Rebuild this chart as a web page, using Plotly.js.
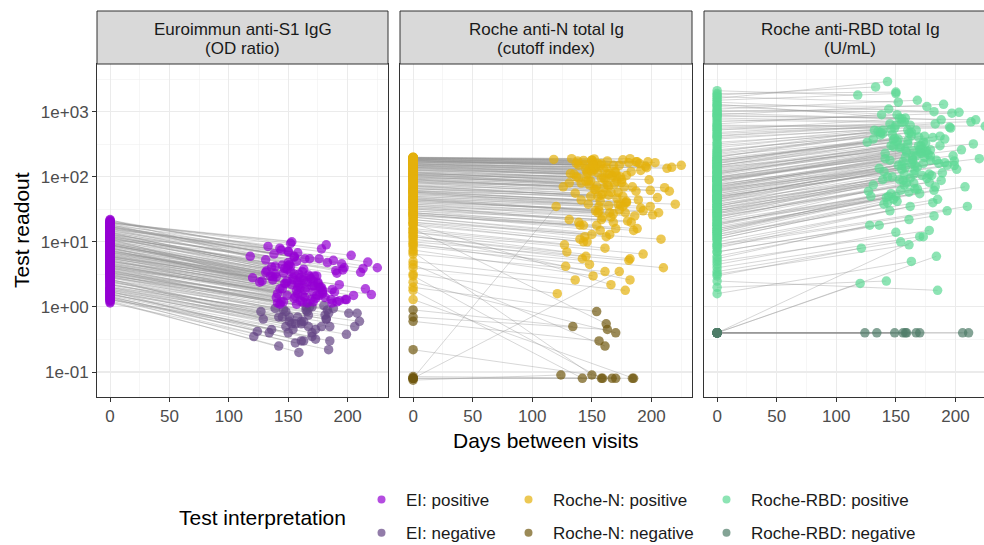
<!DOCTYPE html>
<html>
<head>
<meta charset="utf-8">
<script src="https://cdn.plot.ly/plotly-3.0.1.min.js"></script>
<style>
html,body{margin:0;padding:0;background:#fff;overflow:hidden;}
body{width:984px;height:545px;}
#chart{width:1000px;height:560px;}
</style>
</head>
<body>
<div id="chart"></div>
<script>
// ---------- data ----------
const days = [
152,165,138,177,121,160,145,190,158,171,
148,183,133,162,205,155,142,174,127,168,
159,150,186,136,163,197,146,179,153,215,
140,170,157,131,181,164,149,193,161,118,
175,144,210,156,167,139,185,151,172,201,
162,129,154,178,147,188,166,143,220,159,
135,173,151,195,160,124,182,157,169,141,
208,155,176,146,163,137,191,150,180,167,
153,213,142,171,158,184,132,165,149,199,
176,161,145,187,154,225,168,139,174,156,
120,164,152,182,148,170,196,158,143,217,
161,134,179,150,166,203,155,173,126,188,
157,146,168,184,139,162,175,153,191,144,
166,150,179,131,158,172,187,143,163,206,
148,170,155,198,161,137,176,152,182,165,
159,141,173,189,150,167,128,181,156,211,
170,154,145,178,163,193,136,160,185,149,
164,178,151,140,171,158,199,147,169,183];

const eiV1 = [
12,3.5,18,6.2,1.4,9.5,2.2,15,4.8,7.8,
1.8,11,20,3.0,5.5,14,1.2,8.6,2.6,16,
6.8,21,4.1,1.6,10,13,2.9,5.0,19,7.2,
3.8,1.3,17,9.0,2.4,6.0,12.5,4.4,1.9,22,
8.0,15.5,2.0,5.2,11.5,3.2,1.5,18.5,7.0,4.0,
13.5,2.7,6.5,1.7,9.8,16.5,3.6,20.5,5.8,1.25,
10.5,4.6,2.3,14.5,7.5,1.45,19.5,3.3,8.3,5.4,
2.8,17.5,6.0,11.8,1.35,9.2,4.3,21.5,3.9,1.65,
7.4,13,2.1,5.9,16,1.15,10.8,3.1,8.9,4.7,
19,2.5,12,6.6,1.55,15,3.4,9.6,5.1,1.85,
11,4.2,20,2.2,7.9,1.3,14,6.3,3.7,17,
9.0,1.75,5.6,12.8,2.9,18,4.5,1.4,8.2,3.2,
5.3,3.0,8.8,2.6,13.8,4.1,6.9,2.0,10.2,3.6,
7.1,1.6,4.9,15.8,2.4,9.3,3.3,5.7,12.2,1.9,
2.8,6.4,17.2,3.9,1.45,8.1,4.6,11.2,2.2,6.1,
9.9,3.4,1.7,5.0,14.2,2.6,7.7,4.3,1.3,10.8,
3.1,8.5,5.6,19.8,2.0,6.8,12.8,3.7,1.8,4.4,
16.8,5.9,2.5,9.1,3.5,7.3,1.55,11.6,4.0,2.9];
const eiV2 = [
4.2,1.0,6.5,2.0,0.35,2.8,0.7,3.6,1.6,2.5,
0.5,4.8,8.5,1.2,1.5,3.2,0.25,3.0,0.85,5.5,
2.2,7.0,1.3,0.45,2.6,4.0,0.9,1.7,10,1.9,
1.4,0.4,5.0,3.4,0.75,1.8,3.8,1.25,0.55,6.0,
2.4,7.5,0.6,1.45,3.1,0.95,0.3,4.5,2.1,0.8,
3.5,0.65,2.6,0.5,2.3,5.2,1.15,8.0,1.55,0.2,
3.0,1.35,0.6,4.6,1.95,0.42,9.0,1.1,2.7,1.6,
0.8,5.8,2.0,3.3,0.3,2.9,1.2,7.2,1.05,0.5,
2.2,3.9,0.7,1.7,6.8,0.22,3.6,0.9,2.5,1.3,
5.5,0.6,4.4,1.85,0.45,4.0,1.0,3.2,1.5,0.55,
2.8,1.4,9.5,0.65,2.3,0.35,3.7,2.0,1.1,4.9,
2.6,0.4,1.8,4.3,0.85,6.2,1.35,0.32,2.4,0.95,
1.8,1.2,2.9,0.8,4.2,1.5,2.3,0.55,3.3,1.2,
2.4,0.4,1.6,5.3,0.7,3.0,1.15,1.9,3.8,0.5,
0.85,2.1,6.0,1.3,0.3,2.6,1.5,3.5,0.65,2.0,
3.2,1.15,0.45,1.7,4.8,0.75,2.5,1.4,0.28,3.4,
1.0,2.8,1.9,7.8,0.6,2.2,4.1,1.25,0.5,1.5,
5.5,2.0,0.7,2.9,1.2,2.4,0.38,3.9,1.3,0.9];

const nV1 = [
150,45,190,80,3.2,120,12,175,30,95,
8.5,160,200,22,60,140,1.8,110,15,185,
70,195,35,5.0,130,165,18,55,180,90,
25,2.4,170,100,10,65,145,40,6.5,198,
105,178,9.0,48,135,28,1.3,188,75,38,
155,14,85,4.0,115,182,33,192,52,0.08,
125,42,7.5,168,88,0.075,196,27,98,58,
20,186,68,138,0.7,118,44,199,32,0.08,
78,158,11,62,172,0.085,128,24,102,46,
190,16,148,72,2.0,162,36,112,50,0.6,
0.08,50,194,13,92,0.22,152,66,28,176,
108,0.9,58,142,19,184,40,0.08,84,26,
60,140,32,95,180,16,115,48,160,22,
84,7.0,150,36,128,56,195,19,108,42,
170,28,72,125,4.5,188,54,90,12,146,
38,110,178,66,24,134,9.5,185,46,100,
152,30,118,62,192,14,82,166,26,74,
106,44,175,20,138,3.0,92,58,158,34];
const nV2 = [
130,28,175,70,1.6,95,6,160,22,85,
4.5,120,190,12,48,115,0.08,100,9,150,
55,180,25,2.6,110,170,10,40,140,60,
18,0.4,150,80,5.2,52,125,30,3.5,185,
90,155,4.0,35,105,20,0.08,165,58,26,
140,7,72,1.8,88,170,24,178,38,0.08,
110,31,3.0,145,68,0.09,190,15,78,44,
11,160,50,118,0.45,100,33,180,21,0.08,
64,135,5.5,47,160,0.08,112,13,86,35,
182,8,130,60,0.85,150,27,96,37,0.3,
35,36,188,2.6,75,0.08,138,52,18,140,
92,0.5,42,120,2.2,165,28,3.5,70,16,
42,110,20,70,150,0.55,82,30,125,12,
58,0.09,105,22,95,38,170,10,75,28,
135,16,50,90,0.25,160,35,64,5.5,112,
24,80,150,44,13,100,4.2,165,30,68,
118,18,85,40,175,6.5,56,130,15,50,
72,28,150,11,102,0.08,62,38,120,20];

const rbdV1 = [
180,25,650,70,3.0,300,8,900,40,120,
12,420,1800,30,95,520,2.0,210,18,1100,
85,1500,45,6,260,700,15,60,1300,140,
35,4.0,800,160,10,75,380,50,7,2100,
130,1000,9,55,340,28,2.5,1200,100,42,
460,14,110,5,230,950,38,1600,65,0.4,
280,48,11,600,150,0.4,1400,22,190,80,
20,750,90,400,1.6,200,52,1900,33,0.4,
105,560,13,88,850,0.4,320,24,170,58,
1250,16,480,115,3.5,620,44,250,68,0.4,
0.4,62,1700,17,165,0.4,540,98,30,880,
220,0.4,72,430,19,1050,46,0.4,145,27,
35,120,18,60,240,9,85,28,150,14,
48,4.5,95,22,70,32,180,12,55,0.4,
110,16,42,78,3.2,200,30,52,7,90,
24,66,135,38,15,75,5.5,160,27,0.4,
98,19,64,36,175,8.5,45,125,13,0.4,
62,25,140,11,88,0.4,50,33,115,21];
const rbdV2 = [
380,110,900,220,8,520,30,1300,140,300,
45,650,2400,95,260,780,2.5,420,60,1500,
240,1900,160,18,480,950,55,180,800,320,
120,12,700,380,40,210,560,150,22,1800,
330,1100,35,170,520,90,1.8,900,270,130,
620,50,290,15,450,750,125,2900,190,0.4,
500,160,42,580,360,0.4,1000,75,410,230,
70,680,250,540,5,440,165,2000,105,0.4,
280,700,48,240,800,6,520,80,390,175,
1200,58,650,300,10,600,140,460,200,0.4,
2.3,185,1400,62,370,0.4,560,260,100,750,
470,0.4,210,620,65,980,150,12,340,88,
110,300,65,180,520,35,240,90,380,50,
150,14,260,75,200,105,420,40,160,0.4,
290,55,130,210,9,480,95,150,25,250,
80,190,340,115,50,210,18,400,88,0.4,
260,62,180,110,430,30,135,320,45,0.4,
175,82,350,38,230,0.4,150,100,300,70];

const eiCutoff = 1.1, nCutoff = 1.0, rbdCutoff = 0.8;
const eiNames = ["EI: positive", "EI: negative"];
const nNames = ["Roche-N: positive", "Roche-N: negative"];
const rbdNames = ["Roche-RBD: positive", "Roche-RBD: negative"];
const eiColors = ["rgb(148,0,211)", "rgb(100,68,132)"];
const nColors = ["rgb(228,176,12)", "rgb(112,88,16)"];
const rbdColors = ["rgb(92,216,148)", "rgb(78,124,104)"];
const stripTitles = [["Euroimmun anti-S1 IgG", "(OD ratio)"], ["Roche anti-N total Ig", "(cutoff index)"], ["Roche anti-RBD total Ig", "(U/mL)"]];
const xTicks = [0, 50, 100, 150, 200];
const xMinor = [-25, 25, 75, 125, 175, 225];
const yTickVals = [0.1, 1, 10, 100, 1000];
const yTickText = ["1e-01", "1e+00", "1e+01", "1e+02", "1e+03"];
const yMinor = [0.0316, 0.316, 3.16, 31.6, 316, 3162];

// ---------- layout helpers ----------
const FONT = '"Liberation Sans", Arial, Helvetica, sans-serif';
const W = 1000, H = 560;   // canvas slightly larger than the 984x545 view; the page clips it
const px = v => v / W;
const py = v => 1 - v / H;
const panelX = [[97, 388], [400, 692], [704, 996]];
const plotTop = 64, plotBottom = 397, stripTop = 11;
const legendX = [357, 504, 702];

const assays = [
  {v1: eiV1, v2: eiV2, cut: eiCutoff, names: eiNames, colors: eiColors},
  {v1: nV1, v2: nV2, cut: nCutoff, names: nNames, colors: nColors},
  {v1: rbdV1, v2: rbdV2, cut: rbdCutoff, names: rbdNames, colors: rbdColors}
];

const traces = [];
const layout = {
  width: W, height: H,
  margin: {l: 0, r: 0, t: 0, b: 0},
  paper_bgcolor: "#fff", plot_bgcolor: "#fff",
  font: {family: FONT, color: "#1a1a1a"},
  showlegend: true,
  shapes: [], annotations: []
};

assays.forEach((a, k) => {
  const sfx = k === 0 ? "" : String(k + 1);
  const xa = "x" + sfx, ya = "y" + sfx;
  const lx = [], ly = [];
  days.forEach((d, i) => { lx.push(0, d, null); ly.push(a.v1[i], a.v2[i], null); });
  traces.push({type: "scatter", mode: "lines", x: lx, y: ly, xaxis: xa, yaxis: ya,
    line: {color: "rgba(150,150,150,0.38)", width: 1}, hoverinfo: "skip", showlegend: false});
  const pos = {x: [], y: []}, neg = {x: [], y: []};
  days.forEach((d, i) => {
    const t1 = a.v1[i] >= a.cut ? pos : neg; t1.x.push(0); t1.y.push(a.v1[i]);
    const t2 = a.v2[i] >= a.cut ? pos : neg; t2.x.push(d); t2.y.push(a.v2[i]);
  });
  [[neg, 1], [pos, 0]].forEach(([p, j]) => traces.push({type: "scatter", mode: "markers",
    x: p.x, y: p.y, xaxis: xa, yaxis: ya, showlegend: false,
    marker: {size: 9.5, color: a.colors[j], opacity: 0.7, line: {width: 0}}}));
  const lg = k === 0 ? "legend" : "legend" + (k + 1);
  [0, 1].forEach(j => traces.push({type: "scatter", mode: "markers", x: [null], y: [null],
    xaxis: xa, yaxis: ya, name: a.names[j], legend: lg, legendgroup: a.names[j], showlegend: true,
    marker: {size: 8, color: a.colors[j], opacity: 0.7}}));

  layout["xaxis" + sfx] = {
    domain: [px(panelX[k][0]), px(panelX[k][1])], anchor: ya, range: [-11, 234],
    tickmode: "array", tickvals: xTicks, ticktext: xTicks.map(String),
    ticks: "outside", ticklen: 4, tickwidth: 1, tickcolor: "#333",
    tickfont: {family: FONT, size: 17, color: "#4d4d4d"},
    showgrid: true, gridcolor: "#ebebeb", gridwidth: 1.1,
    minor: {tickmode: "array", tickvals: xMinor, showgrid: true, gridcolor: "#f0f0f0", gridwidth: 0.6, ticks: ""},
    showline: true, mirror: true, linecolor: "#333", linewidth: 1, zeroline: false, fixedrange: true
  };
  layout["yaxis" + sfx] = {
    domain: [py(plotBottom), py(plotTop)], anchor: xa, type: "log", range: [-1.384, 3.733],
    tickmode: "array", tickvals: yTickVals, ticktext: yTickText,
    ticks: k === 0 ? "outside" : "", ticklen: 4, tickwidth: 1, tickcolor: "#333",
    showticklabels: k === 0,
    tickfont: {family: FONT, size: 17, color: "#4d4d4d"},
    showgrid: true, gridcolor: "#ebebeb", gridwidth: 1.1,
    minor: {tickmode: "array", tickvals: yMinor, showgrid: true, gridcolor: "#f0f0f0", gridwidth: 0.6, ticks: ""},
    showline: true, mirror: true, linecolor: "#333", linewidth: 1, zeroline: false, fixedrange: true
  };
  layout[lg] = {
    x: px(legendX[k]), xanchor: "left", y: py(482), yanchor: "top", orientation: "v",
    bgcolor: "rgba(0,0,0,0)", borderwidth: 0, tracegroupgap: 8, itemwidth: 39,
    font: {family: FONT, size: 17, color: "#1a1a1a"}
  };
  layout.shapes.push({type: "rect", xref: "paper", yref: "paper",
    x0: px(panelX[k][0]), x1: px(panelX[k][1]), y0: py(plotTop), y1: py(stripTop),
    fillcolor: "#d9d9d9", line: {color: "#333", width: 1}});
  const cx = px((panelX[k][0] + panelX[k][1]) / 2);
  layout.annotations.push({xref: "paper", yref: "paper", x: cx, y: py(29), text: stripTitles[k][0],
    showarrow: false, xanchor: "center", yanchor: "middle", font: {family: FONT, size: 17, color: "#1a1a1a"}});
  layout.annotations.push({xref: "paper", yref: "paper", x: cx, y: py(48), text: stripTitles[k][1],
    showarrow: false, xanchor: "center", yanchor: "middle", font: {family: FONT, size: 17, color: "#1a1a1a"}});
});

layout.annotations.push({xref: "paper", yref: "paper", x: px(546), y: py(440), text: "Days between visits",
  showarrow: false, xanchor: "center", yanchor: "middle", font: {family: FONT, size: 21, color: "#000"}});
layout.annotations.push({xref: "paper", yref: "paper", x: px(21), y: py(230), text: "Test readout", textangle: -90,
  showarrow: false, xanchor: "center", yanchor: "middle", font: {family: FONT, size: 21, color: "#000"}});
layout.annotations.push({xref: "paper", yref: "paper", x: px(262), y: py(517), text: "Test interpretation",
  showarrow: false, xanchor: "center", yanchor: "middle", font: {family: FONT, size: 21, color: "#000"}});

Plotly.newPlot("chart", traces, layout, {staticPlot: true, displayModeBar: false});
</script>
</body>
</html>
